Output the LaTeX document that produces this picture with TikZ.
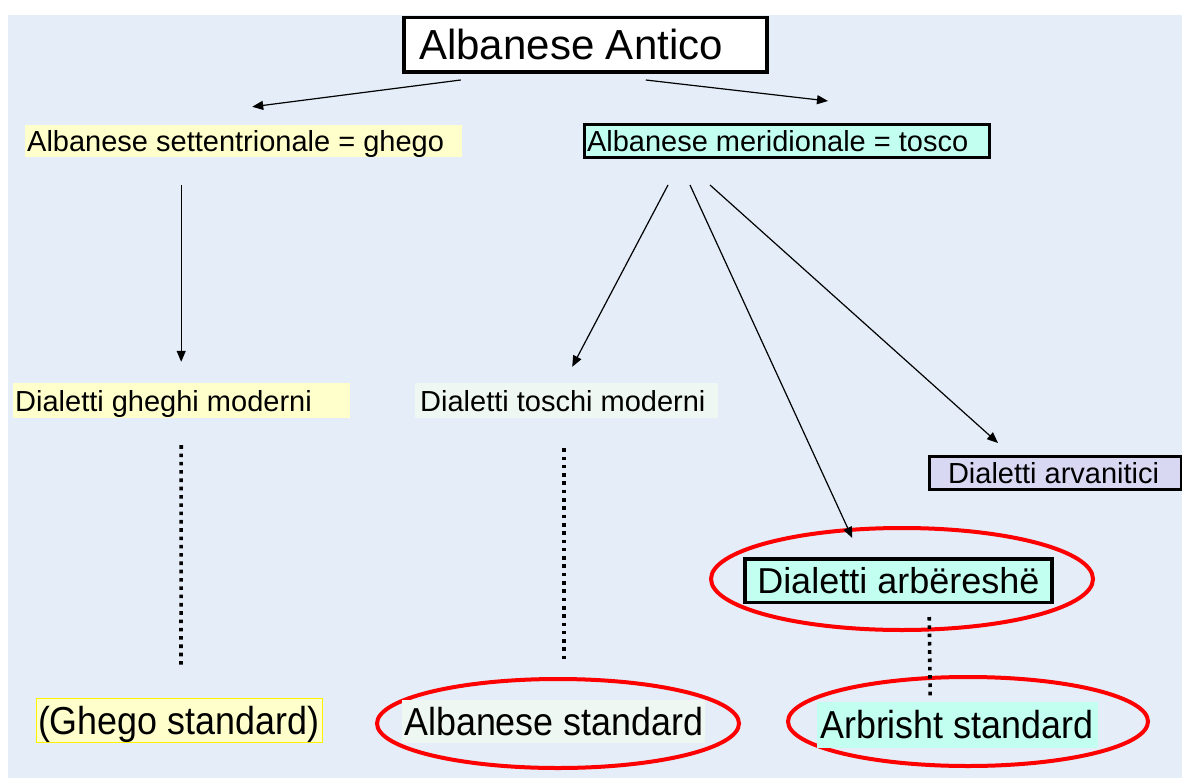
\documentclass[tikz,border=0pt]{standalone}
\usepackage{fontspec}
\setmainfont{Liberation Sans}
\newfontfamily\narrowsans[FakeStretch=0.92]{Liberation Sans}
\usetikzlibrary{arrows.meta,shapes.geometric,calc}
\definecolor{bgblue}{RGB}{228,237,248}
\definecolor{paleyellow}{RGB}{255,255,204}
\definecolor{aqua}{RGB}{195,255,240}
\definecolor{palegreen}{RGB}{238,247,242}
\definecolor{lavender}{RGB}{216,216,242}
\definecolor{ringred}{RGB}{255,0,0}
\tikzset{
  lbl/.style={anchor=west, inner ysep=0pt, text depth=0pt},
  fsmall/.style={font=\fontsize{29}{34}\selectfont, text height=21pt},
  fbig/.style={font=\fontsize{36}{42}\selectfont, text height=26pt},
  fcond/.style={font=\narrowsans\fontsize{39}{45}\selectfont, text height=28pt},
  ftop/.style={font=\fontsize{42}{48}\selectfont, text height=30pt},
  ring/.style={draw=ringred, line width=4pt, ellipse, inner sep=0pt},
  arr/.style={line width=1.2pt, -{Triangle[length=11pt,width=9pt]}},
  dots/.style={line width=3.6pt, dash pattern=on 3.6pt off 4.7pt},
}
\begin{document}
\begin{tikzpicture}[x=1pt,y=-1pt]
\useasboundingbox (0,0) rectangle (1182,778);
\fill[bgblue] (8,15) rectangle (1182,778);

% ellipses
\node[ring, minimum width=382pt, minimum height=102pt] (R1) at (902,579) {};
\node[ring, minimum width=362pt, minimum height=89pt] (R2) at (558,723.5) {};
\node[ring, minimum width=360pt, minimum height=89pt] (R3) at (968,721.5) {};

% nodes
\node[lbl, ftop, fill=white, draw=black, line width=3.5pt, inner xsep=15.5pt, minimum height=54.5pt] (A) at (402,45) {\makebox[332pt][l]{Albanese Antico}};
\node[lbl, fsmall, fill=paleyellow, inner xsep=2pt, minimum height=32pt] (B) at (25,141) {\makebox[433pt][l]{Albanese settentrionale = ghego}};
\node[lbl, fsmall, fill=aqua, draw=black, line width=3pt, inner xsep=2.5pt, minimum height=33pt] (C) at (583,141) {\makebox[400pt][l]{Albanese meridionale = tosco}};
\node[lbl, fsmall, fill=paleyellow, inner xsep=2pt, minimum height=35pt] (D) at (13,400.5) {\makebox[333pt][l]{Dialetti gheghi moderni}};
\node[lbl, fsmall, fill=palegreen, inner xsep=5pt, minimum height=35pt] (E) at (415,400.5) {\makebox[293pt][l]{Dialetti toschi moderni}};
\node[lbl, fsmall, fill=lavender, draw=black, line width=3pt, inner xsep=18.5pt, minimum height=33pt] (F) at (928,473) {\makebox[215pt][l]{Dialetti arvanitici}};
\node[lbl, fbig, fill=aqua, draw=black, line width=3.5pt, inner xsep=12.5pt, minimum height=43.5pt] (G) at (743,580.5) {\makebox[282pt][l]{Dialetti arbëreshë}};
\node[lbl, fcond, fill=paleyellow, draw=yellow, line width=1pt, inner xsep=1.5pt, minimum height=44pt] (H) at (36,720.5) {\makebox[283pt][l]{(Ghego standard)}};
\node[lbl, fcond, fill=palegreen, inner xsep=2pt, minimum height=43pt] (I) at (402,721.5) {\makebox[299pt][l]{Albanese standard}};
\node[lbl, fcond, fill=aqua, inner xsep=3pt, minimum height=46pt] (J) at (817,724.5) {\makebox[275pt][l]{Arbrisht standard}};

% arrows
\draw[arr] ([xshift=-124.5pt,yshift=-6pt]A.south) -- ([xshift=8.5pt,yshift=18pt]B.north);
\draw[arr] ([xshift=60.5pt,yshift=-6pt]A.south) -- ([xshift=41pt,yshift=22pt]C.north);
\draw[arr] ([xshift=-62.5pt,yshift=-28pt]B.south) -- ([xshift=-0.5pt,yshift=21pt]D.north);
\draw[arr] ([xshift=-119pt,yshift=-26pt]C.south) -- ([xshift=5.5pt,yshift=16pt]E.north);
\draw[arr] ([xshift=-97pt,yshift=-26pt]C.south) -- ([xshift=-46pt,yshift=19pt]G.north);
\draw[arr] ([xshift=-77pt,yshift=-26pt]C.south) -- ([xshift=-57.5pt,yshift=12pt]F.north);

% dotted links
\draw[dots] ([xshift=-0.5pt,yshift=-27pt]D.south) -- ([xshift=1.5pt,yshift=29pt]H.north);
\draw[dots] ([xshift=-2.5pt,yshift=-30pt]E.south) -- ([xshift=10.5pt,yshift=37pt]I.north);
\draw[dots] ([xshift=31pt,yshift=-13pt]G.south) -- ([xshift=-27.5pt,yshift=4pt]J.north);
\end{tikzpicture}
\end{document}
